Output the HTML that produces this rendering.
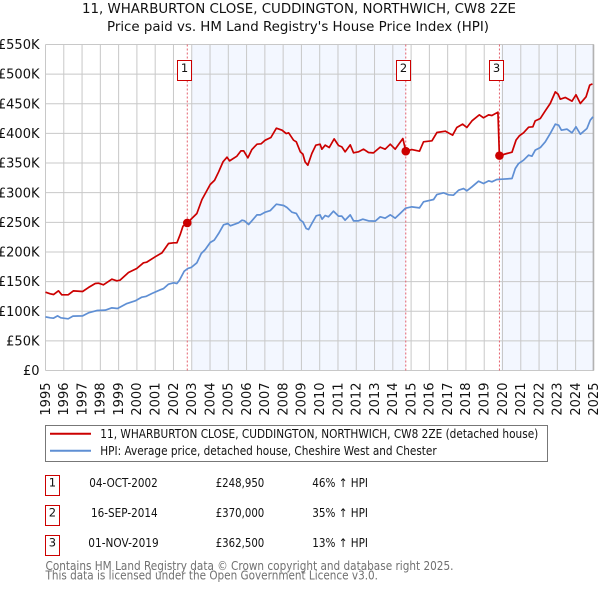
<!DOCTYPE html>
<html>
<head>
<meta charset="utf-8">
<title>11, Wharburton Close price chart</title>
<style>
html,body{margin:0;padding:0;background:#fff;width:600px;height:590px;overflow:hidden}
svg{display:block;font-family:"DejaVu Sans","Liberation Sans",sans-serif}
</style>
</head>
<body>
<svg id="chart" width="600" height="590" viewBox="0 0 600 590" xmlns="http://www.w3.org/2000/svg">
  <g id="bands"></g>
  <g id="grid"></g>
  <g id="vlines"></g>
  <g id="series"></g>
  <g id="dots"></g>
  <g id="ylabels" font-size="13" fill="#111"></g>
  <g id="xlabels" font-size="13" fill="#111"></g>

  <text x="82" y="13" font-size="13" fill="#111" textLength="434" lengthAdjust="spacingAndGlyphs">11, WHARBURTON CLOSE, CUDDINGTON, NORTHWICH, CW8 2ZE</text>
  <text x="107" y="31" font-size="13" fill="#111" textLength="382" lengthAdjust="spacingAndGlyphs">Price paid vs. HM Land Registry's House Price Index (HPI)</text>

  <g>
    <rect x="45.5" y="425.5" width="502" height="36" fill="#fff" stroke="#777" stroke-width="1"/>
    <line x1="50" x2="91" y1="433.7" y2="433.7" stroke="#cc0000" stroke-width="2"/>
    <text x="100.3" y="438" font-size="12" fill="#111" textLength="438" lengthAdjust="spacingAndGlyphs">11, WHARBURTON CLOSE, CUDDINGTON, NORTHWICH, CW8 2ZE (detached house)</text>
    <line x1="50" x2="91" y1="450.7" y2="450.7" stroke="#5f8fd4" stroke-width="2"/>
    <text x="100.3" y="455" font-size="12" fill="#111" textLength="336.4" lengthAdjust="spacingAndGlyphs">HPI: Average price, detached house, Cheshire West and Chester</text>
  </g>

  <g font-size="12" fill="#111">
    <rect x="45.5" y="475.5" width="14" height="20" fill="#fff" stroke="#cc0000"/>
    <text x="52.4" y="486.7" text-anchor="middle" font-size="11.5">1</text>
    <text x="89.3" y="487" textLength="68.4" lengthAdjust="spacingAndGlyphs">04-OCT-2002</text>
    <text x="215.7" y="487" textLength="48.6" lengthAdjust="spacingAndGlyphs">£248,950</text>
    <text x="312.3" y="487" textLength="55.7" lengthAdjust="spacingAndGlyphs">46% ↑ HPI</text>

    <rect x="45.5" y="505.5" width="14" height="20" fill="#fff" stroke="#cc0000"/>
    <text x="52.4" y="516.7" text-anchor="middle" font-size="11.5">2</text>
    <text x="91" y="517" textLength="66.7" lengthAdjust="spacingAndGlyphs">16-SEP-2014</text>
    <text x="215.7" y="517" textLength="48.6" lengthAdjust="spacingAndGlyphs">£370,000</text>
    <text x="312.3" y="517" textLength="55.7" lengthAdjust="spacingAndGlyphs">35% ↑ HPI</text>

    <rect x="45.5" y="535.5" width="14" height="20" fill="#fff" stroke="#cc0000"/>
    <text x="52.4" y="546.7" text-anchor="middle" font-size="11.5">3</text>
    <text x="88.3" y="547" textLength="70.4" lengthAdjust="spacingAndGlyphs">01-NOV-2019</text>
    <text x="215.7" y="547" textLength="48.6" lengthAdjust="spacingAndGlyphs">£362,500</text>
    <text x="312.3" y="547" textLength="55.7" lengthAdjust="spacingAndGlyphs">13% ↑ HPI</text>
  </g>

  <text x="45.5" y="570" font-size="12" fill="#707070" textLength="408" lengthAdjust="spacingAndGlyphs">Contains HM Land Registry data © Crown copyright and database right 2025.</text>
  <text x="45.5" y="579.6" font-size="12" fill="#707070" textLength="332.5" lengthAdjust="spacingAndGlyphs">This data is licensed under the Open Government Licence v3.0.</text>
</svg>

<script>
var xTickYears = [1995,1996,1997,1998,1999,2000,2001,2002,2003,2004,2005,2006,2007,2008,2009,2010,2011,2012,2013,2014,2015,2016,2017,2018,2019,2020,2021,2022,2023,2024,2025];
var yTickValues = [0,50,100,150,200,250,300,350,400,450,500,550];
var yTickLabels = ["£0","£50K","£100K","£150K","£200K","£250K","£300K","£350K","£400K","£450K","£500K","£550K"];

var hpiDates = [1995.00,1995.26,1995.44,1995.66,1995.84,1996.24,1996.50,1997.03,1997.35,1997.81,1998.27,1998.63,1998.94,1999.45,1999.91,2000.27,2000.49,2000.82,2001.28,2001.46,2001.73,2002.01,2002.19,2002.33,2002.59,2002.79,2002.97,2003.28,2003.52,2003.74,2004.01,2004.23,2004.47,2004.74,2004.98,2005.11,2005.56,2005.75,2005.89,2006.11,2006.57,2006.75,2007.02,2007.30,2007.63,2008.03,2008.21,2008.48,2008.72,2008.94,2009.08,2009.26,2009.39,2009.57,2009.81,2010.02,2010.13,2010.30,2010.48,2010.75,2011.03,2011.21,2011.39,2011.67,2011.85,2012.12,2012.36,2012.67,2013.04,2013.31,2013.58,2013.86,2014.13,2014.40,2014.70,2015.04,2015.46,2015.68,2016.23,2016.41,2016.78,2017.05,2017.32,2017.60,2017.87,2018.05,2018.33,2018.69,2018.96,2019.24,2019.42,2019.69,2019.97,2020.52,2020.70,2020.88,2021.15,2021.43,2021.61,2021.79,2022.07,2022.34,2022.61,2022.89,2023.07,2023.22,2023.53,2023.80,2024.02,2024.26,2024.62,2024.80,2024.95];
var hpiValues = [90.5,88.9,88.3,92.2,88.9,87.2,91.7,92.2,97.3,101.2,101.8,105.7,104.6,113,117.5,123.7,124.9,129.9,136.1,138.3,145.7,147.9,146.8,152.4,167.6,172.1,173.8,181.7,197.4,204.2,216,219.9,231.1,245.8,248,244.1,249.1,253.6,252.5,246.3,262.6,262.6,267.1,269.9,280.6,278.4,275,267.1,264.9,253.6,250.8,239.6,237.9,248,261,262.6,255.3,261.5,259.3,268.8,260.4,260.4,253.6,262.6,252.5,252.5,255.3,252.5,252,259.3,257,262.6,257,264.9,273.9,276.1,274.4,284.6,288.5,296.9,299.7,296.4,295.8,304.2,307,303.1,309.9,319.4,315.5,320,318.3,322.2,322.8,323.9,340.8,349.2,354.8,363.3,361.6,371.7,376.2,385.8,399.8,415.6,413.9,405.5,407.2,401,411.1,398.7,408.3,422.3,428];

var priceDates = [1995.00,1995.26,1995.44,1995.71,1995.89,1996.24,1996.53,1997.03,1997.35,1997.72,1997.90,1998.17,1998.63,1998.90,1999.08,1999.54,1999.99,2000.36,2000.54,2001.00,2001.37,2001.73,2002.01,2002.19,2002.37,2002.52,2002.76,2003.00,2003.28,2003.56,2003.79,2004.01,2004.25,2004.47,2004.71,2004.93,2005.07,2005.47,2005.69,2005.84,2006.07,2006.29,2006.57,2006.79,2007.02,2007.33,2007.63,2007.94,2008.17,2008.30,2008.57,2008.72,2008.94,2009.08,2009.20,2009.35,2009.57,2009.79,2010.02,2010.12,2010.30,2010.52,2010.79,2011.03,2011.21,2011.39,2011.67,2011.85,2012.12,2012.40,2012.67,2012.94,2013.31,2013.58,2013.86,2014.13,2014.55,2014.71,2015.04,2015.46,2015.68,2016.14,2016.41,2016.87,2017.27,2017.50,2017.82,2018.05,2018.33,2018.73,2018.96,2019.24,2019.42,2019.75,2019.83,2020.24,2020.52,2020.74,2020.92,2021.15,2021.43,2021.66,2021.79,2022.07,2022.34,2022.61,2022.89,2023.04,2023.16,2023.44,2023.80,2024.02,2024.26,2024.57,2024.77,2024.92];
var priceValues = [132.2,129.4,128.2,134.4,127.7,127.7,134.4,133.3,140,146.8,147.3,144.5,154.1,151.3,152.4,165.3,172.1,181.7,182.8,191.8,198.5,214.3,215.4,215.4,229.5,243.5,248.95,256.5,264.9,288.5,301.4,313.8,321,335,352,359.9,353.7,361.6,370.6,370.6,358.8,372.8,381.8,382.4,388.6,393.1,408.8,405.5,399.8,401,388.6,385.8,368.9,365,352,346.4,366.1,380.2,381.8,373.4,380.2,376.2,390.8,379.6,377.3,368.9,380.7,367.2,368.9,373.4,367.8,367.2,376.8,373.4,381.8,373.4,391.4,370,372.8,370,385.8,387.5,401.5,403.8,397,410,415.6,410,421.2,431.3,426.3,431.3,430.2,435.8,362.5,366.1,368.3,388.6,395.9,401,410.5,411.1,421.2,425.2,438.1,450.5,470.1,466.2,457.8,460.6,454.4,465.1,450.5,461.7,481.4,483.6];

var saleNumbers = ["1","2","3"];
var saleDates = [2002.756,2014.708,2019.833];
var salePrices = [248.95,370,362.5];

var NS = "http://www.w3.org/2000/svg";
function xAxis(year){ return 45.5 + (year - 1995) * 18.28; }
function yAxis(value){ return 370.5 - value * (326 / 550); }
function make(parent, tag, attrs){
  var el = document.createElementNS(NS, tag);
  for (var k in attrs) { el.setAttribute(k, attrs[k]); }
  document.getElementById(parent).appendChild(el);
  return el;
}
function pathFor(dates, values){
  var d = "";
  for (var i = 0; i < dates.length; i++) {
    d += (i ? "L" : "M") + xAxis(dates[i]).toFixed(2) + " " + yAxis(values[i]).toFixed(2);
  }
  return d;
}

var top0 = yAxis(550), bottom0 = yAxis(0);

var band1 = make("bands", "rect", {x: xAxis(2003), y: top0, width: xAxis(saleDates[1]) - xAxis(2003), height: bottom0 - top0, fill: "#f3f7ff"});


var band2 = make("bands", "rect", {x: xAxis(saleDates[2]) + 1.5, y: top0, width: xAxis(2025) - xAxis(saleDates[2]) - 1.5, height: bottom0 - top0, fill: "#f3f7ff"});



xTickYears.forEach(function(yr){
  var l = make("grid", "line", {x1: xAxis(yr), x2: xAxis(yr), y1: top0, y2: bottom0, stroke: "#c8c8c8", "stroke-width": 1});
  
  
  var t = make("xlabels", "text", {x: xAxis(yr) + 4.3, y: 382.5, "text-anchor": "end", transform: "rotate(-90 " + (xAxis(yr) + 4.3) + " 382.5)"});
  t.textContent = yr;
  
  
});
yTickValues.forEach(function(v, i){
  var l = make("grid", "line", {x1: xAxis(1995), x2: xAxis(2025), y1: yAxis(v), y2: yAxis(v), stroke: "#c8c8c8", "stroke-width": 1});
  
  
  var t = make("ylabels", "text", {x: 39.5, y: yAxis(v) + 4.6, "text-anchor": "end"});
  t.textContent = yTickLabels[i];
  
  
});

var endLine = make("grid", "line", {x1: xAxis(2024.96), x2: xAxis(2024.96), y1: top0, y2: bottom0, stroke: "#a8a8a8", "stroke-width": 1});



saleDates.forEach(function(d, i){
  var x = xAxis(d);
  var l = make("vlines", "line", {x1: x, x2: x, y1: top0, y2: bottom0, stroke: "#e4606d", "stroke-width": 1, "stroke-dasharray": "2 2"});
  
  
});

var hpiLine = make("series", "path", {d: pathFor(hpiDates, hpiValues), fill: "none", stroke: "#5f8fd4", "stroke-width": 1.7, "stroke-linejoin": "round"});


var priceLine = make("series", "path", {d: pathFor(priceDates, priceValues), fill: "none", stroke: "#cc0000", "stroke-width": 1.7, "stroke-linejoin": "round"});



saleDates.forEach(function(d, i){
  var x = xAxis(d);
  var c = make("dots", "circle", {cx: x, cy: yAxis(salePrices[i]), r: 4.3, fill: "#cc0000"});
  
  
  var b = make("dots", "rect", {x: Math.round(x - 10) + 0.5, y: 60.5, width: 14, height: 20, fill: "#fff", stroke: "#cc0000", "stroke-width": 1});
  
  
  var t = make("dots", "text", {x: Math.round(x - 10) + 7.5, y: 72, "text-anchor": "middle", "font-size": 11.5, fill: "#111"});
  t.textContent = saleNumbers[i];
  
  
});
</script>
</body>
</html>
